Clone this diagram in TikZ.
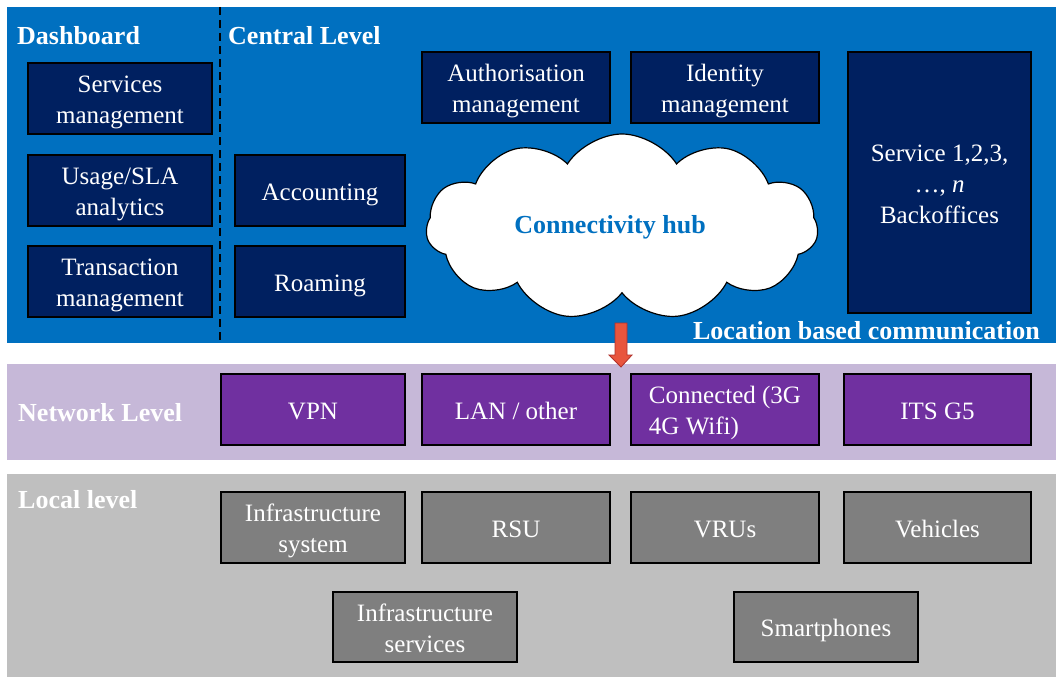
\documentclass[tikz,border=0pt]{standalone}
\usepackage{fontspec}
\setmainfont{Liberation Serif}
\usetikzlibrary{shapes.symbols}
\definecolor{cblue}{HTML}{0070C0}
\definecolor{cnavy}{HTML}{002060}
\definecolor{clav}{HTML}{C6B8D8}
\definecolor{cpurple}{HTML}{7030A0}
\definecolor{cgrayp}{HTML}{BFBFBF}
\definecolor{cgrayb}{HTML}{7F7F7F}
\definecolor{carrow}{HTML}{E8553D}
\definecolor{carrowd}{HTML}{B0302A}
\tikzset{
  basebox/.style={draw=black, line width=1.3pt, text=white, align=center, inner sep=0pt,
    font=\fontsize{25}{31}\selectfont, text height=21pt, text depth=2pt},
  twolines/.style={text height=52pt},
  threelines/.style={text height=83pt},
  navybox/.style={basebox, fill=cnavy},
  purplebox/.style={basebox, fill=cpurple},
  graybox/.style={basebox, fill=cgrayb},
  paneltitle/.style={text=white, inner sep=0pt, font=\fontsize{26}{31}\selectfont\bfseries},
}
\begin{document}
\begin{tikzpicture}[x=1pt, y=-1pt]
\useasboundingbox (0,0) rectangle (1056,677);
% panels
\fill[cblue] (7,7) rectangle (1056,343);
\fill[clav] (7,364) rectangle (1056,460);
\fill[cgrayp] (7,474) rectangle (1056,677);
% dashed separator
\draw[black, line width=2pt, dash pattern=on 8pt off 5pt] (220,7) -- (220,343);
% titles
\node[paneltitle, anchor=west] (dash) at (17,36) {Dashboard};
\node[paneltitle, anchor=west] (central) at (228,36) {Central Level};
\node[paneltitle, anchor=east] (loc) at (1040,331) {Location based communication};
\node[paneltitle, anchor=west] (netl) at (18,413) {Network Level};
\node[paneltitle, anchor=west] (locl) at (18,500) {Local level};
% dashboard boxes
\node[navybox, twolines, minimum width=184, minimum height=71] (serv) at (120,98.5) {Services\\management};
\node[navybox, twolines, minimum width=184, minimum height=71] (usage) at (120,190.5) {Usage/SLA\\analytics};
\node[navybox, twolines, minimum width=184, minimum height=71] (trans) at (120,281.5) {Transaction\\management};
% central boxes
\node[navybox, minimum width=170, minimum height=71] (acc) at (320,190.5) {Accounting};
\node[navybox, minimum width=170, minimum height=71] (roam) at (320,281.5) {Roaming};
\node[navybox, twolines, minimum width=188, minimum height=71] (auth) at (516,87.5) {Authorisation\\management};
\node[navybox, twolines, minimum width=188, minimum height=71] (ident) at (725,87.5) {Identity\\management};
\node[navybox, threelines, minimum width=183, minimum height=261] (back) at (939.5,182.5) {Service 1,2,3,\\\ldots, \textit{n}\\Backoffices};
% cloud
\node[cloud, cloud puffs=11, cloud puff arc=115, cloud ignores aspect, draw=black, line width=1.2pt, fill=white,
  minimum width=392, minimum height=186, inner sep=0pt] (hub) at (622,227) {};
\node[text=cblue, inner sep=0pt, font=\fontsize{26}{31}\selectfont\bfseries] (hubtext) at (610,227) {Connectivity hub};
% arrow
\coordinate (atop) at (621,323);
\fill[carrow, draw=carrowd, line width=0.8pt] ([shift={(-6,0)}]atop) -- ([shift={(6,0)}]atop) -- ([shift={(6,32)}]atop)
  -- ([shift={(11,32)}]atop) -- ([shift={(0,44)}]atop) -- ([shift={(-12,32)}]atop) -- ([shift={(-6,32)}]atop) -- cycle;
% network level
\node[purplebox, minimum width=184, minimum height=71] (vpn) at (313,409.5) {VPN};
\node[purplebox, minimum width=188, minimum height=71] (lan) at (516,409.5) {LAN / other};
\node[purplebox, twolines, minimum width=188, minimum height=71, align=left] (conn) at (725,409.5) {Connected (3G\\4G Wifi)};
\node[purplebox, minimum width=187, minimum height=71] (its) at (937.5,409.5) {ITS G5};
% local level
\node[graybox, twolines, minimum width=184, minimum height=71] (infsys) at (313,527.5) {Infrastructure\\system};
\node[graybox, minimum width=188, minimum height=71] (rsu) at (516,527.5) {RSU};
\node[graybox, minimum width=188, minimum height=71] (vru) at (725,527.5) {VRUs};
\node[graybox, minimum width=187, minimum height=71] (veh) at (937.5,527.5) {Vehicles};
\node[graybox, twolines, minimum width=184, minimum height=70] (infserv) at (425,627) {Infrastructure\\services};
\node[graybox, minimum width=184, minimum height=70] (smart) at (826,627) {Smartphones};
\end{tikzpicture}
\end{document}
